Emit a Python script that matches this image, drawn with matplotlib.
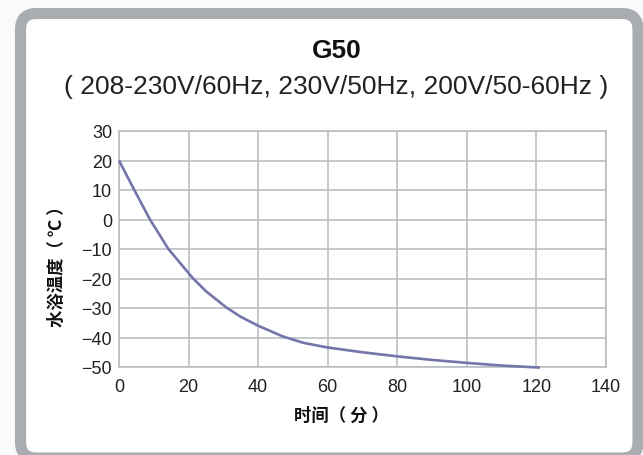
import matplotlib
matplotlib.use('Agg')
import matplotlib.pyplot as plt
from matplotlib.patches import FancyBboxPatch

# 数据
time_min = [0, 4.4, 8.9, 14.2, 21.3, 25, 30.6, 35, 40, 47, 53, 60, 70, 80, 90, 100, 110, 121]
bath_temp = [20, 10, 0, -10, -20, -24.3, -29.6, -33.0, -36.0, -39.6, -41.8, -43.4,
             -45.0, -46.4, -47.6, -48.6, -49.5, -50.2]
x_ticks = [0, 20, 40, 60, 80, 100, 120, 140]
y_ticks = [-50, -40, -30, -20, -10, 0, 10, 20, 30]

title = 'G50'
subtitle = '( 208-230V/60Hz, 230V/50Hz, 200V/50-60Hz )'
xlabel = '时间（ 分 ）'
ylabel = '水浴温度（ ℃ ）'

plt.rcParams['font.family'] = ['Liberation Sans', 'Noto Sans CJK SC', 'DejaVu Sans']
cjk = ['Noto Sans CJK SC', 'DejaVu Sans']

W, H = 643, 456
fig = plt.figure(figsize=(W / 100, H / 100), dpi=100)
fig.patch.set_facecolor('#fafafa')

# 外框（圆角灰边）
border = FancyBboxPatch((20.5, -3), 638 - 20.5, (H - 14.5) + 3,
                        boxstyle='round,pad=0,rounding_size=16',
                        transform=None, facecolor='white', edgecolor='#a9adb1',
                        linewidth=8, zorder=0)
fig.patches.append(border)

ax = fig.add_axes([119 / W, 1 - 368 / H, 487 / W, 236 / H])
ax.set_zorder(2)
ax.set_facecolor('white')
grid_c = '#b7babe'
ax.plot(time_min, bath_temp, color='#7475aa', linewidth=1.9, solid_capstyle='butt',
        solid_joinstyle='round', clip_on=False, zorder=3)

ax.set_xlim(0, 140)
ax.set_ylim(-50, 30)
ax.set_xticks(x_ticks)
ax.set_yticks(y_ticks)
ax.grid(True, color=grid_c, linewidth=1.1)
ax.set_axisbelow(True)
for s in ax.spines.values():
    s.set_color(grid_c)
    s.set_linewidth(1.1)
ax.tick_params(length=0, labelsize=13, colors='#222222')
ax.tick_params(axis='x', pad=8)
ax.tick_params(axis='y', pad=5)

fig.text(337 / W, 1 - 51 / H, title, ha='center', va='center',
         fontsize=19, fontweight='bold', color='#111111', zorder=3)
fig.text(336 / W, 1 - 87 / H, subtitle, ha='center', va='center',
         fontsize=19, color='#222222', zorder=3)
fig.text(341 / W, 1 - 416 / H, xlabel, ha='center', va='center',
         fontsize=12.5, fontweight='bold', family=cjk, color='#111111', zorder=3)
fig.text(57 / W, 1 - 262 / H, ylabel, ha='center', va='center', rotation=90,
         fontsize=12.5, fontweight='bold', family=cjk, color='#111111', zorder=3)

fig.savefig('out.png', dpi=100, facecolor=fig.get_facecolor())
